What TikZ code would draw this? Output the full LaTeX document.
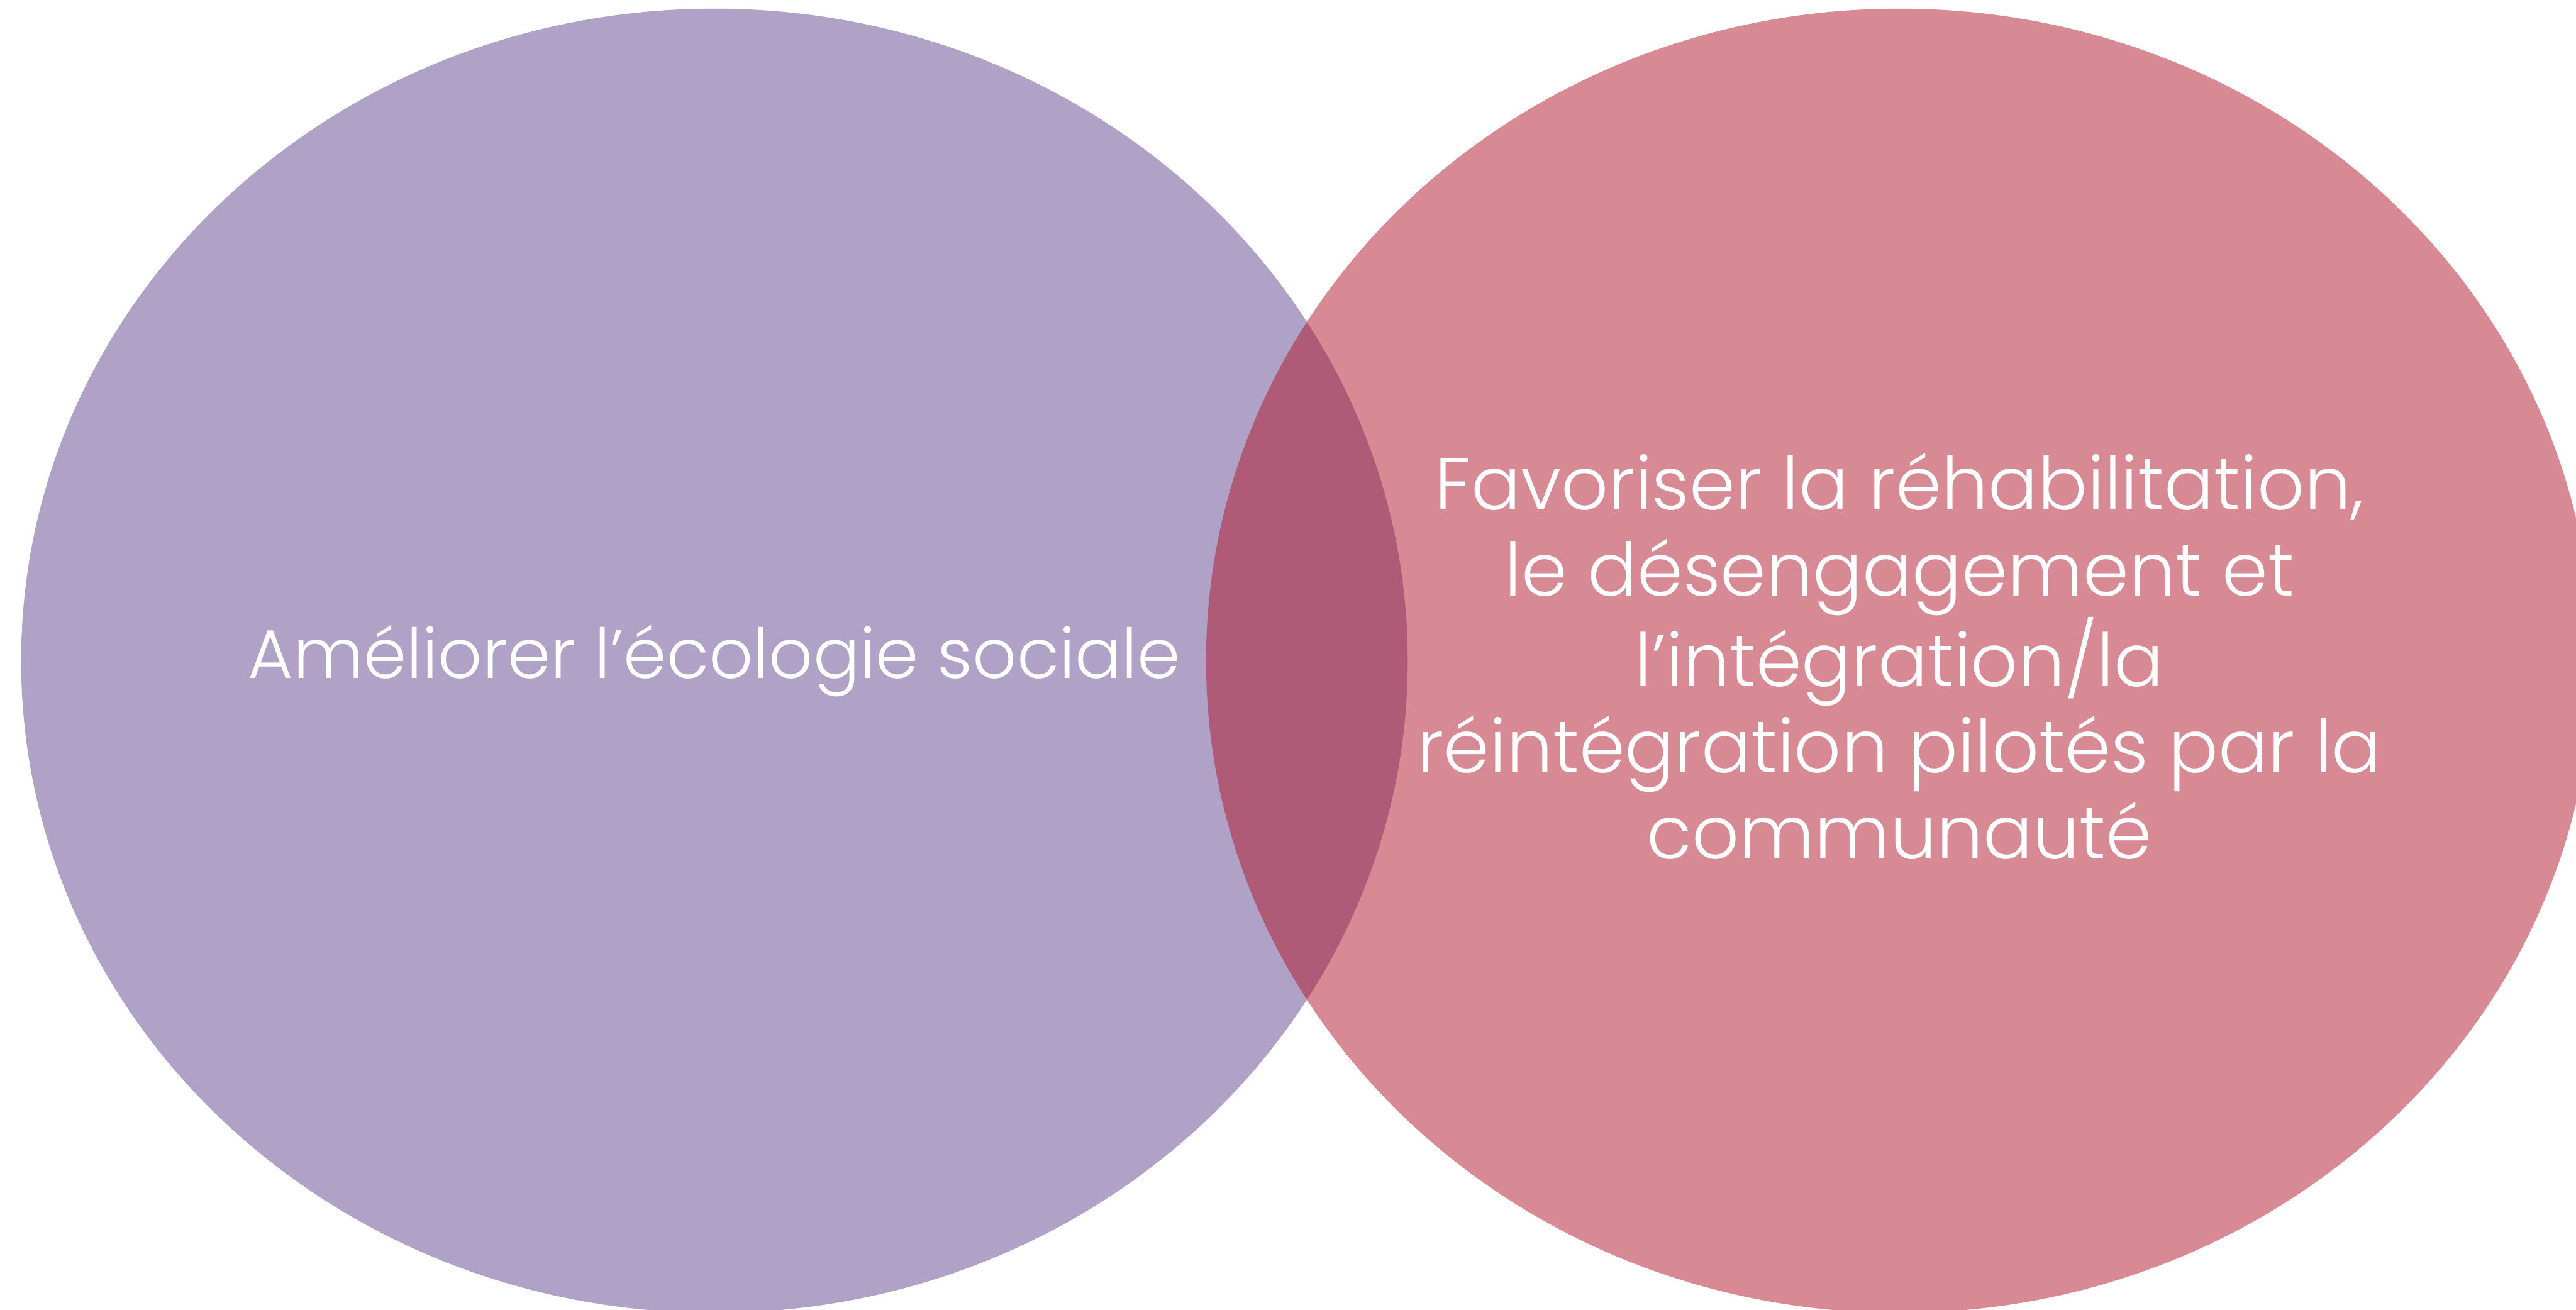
\documentclass[tikz,border=0pt]{standalone}
\usepackage{fontspec}
\setmainfont{Poppins}[UprightFont=* Light]
\usetikzlibrary{shapes.geometric}
\definecolor{lilac}{RGB}{95,69,141}
\definecolor{rosewood}{RGB}{177,21,41}

\begin{document}
\begin{tikzpicture}[zone/.style = {ellipse, fill opacity=0.5, inner sep=0pt, minimum width=36.72cm, minimum height=34.54cm}, caption/.style = {text=white, align=center}]
\useasboundingbox (0,0) rectangle (68.22,34.69);
\clip (0,0) rectangle (68.22,34.69);
\node[zone, fill=lilac] (left) at (18.92,17.19) {};
\node[zone, fill=rosewood] (right) at (50.30,17.19) {};

\node[caption, font=\fontsize{52}{64}\selectfont] (l) at (left) {Améliorer l’écologie sociale};
\node[caption, font=\fontsize{55.5}{65}\selectfont] (r) at ([yshift=1.2mm]right) {Favoriser la réhabilitation,\\ le désengagement et\\ l’intégration/la\\ réintégration pilotés par la\\ communauté};

\end{tikzpicture}
\end{document}
